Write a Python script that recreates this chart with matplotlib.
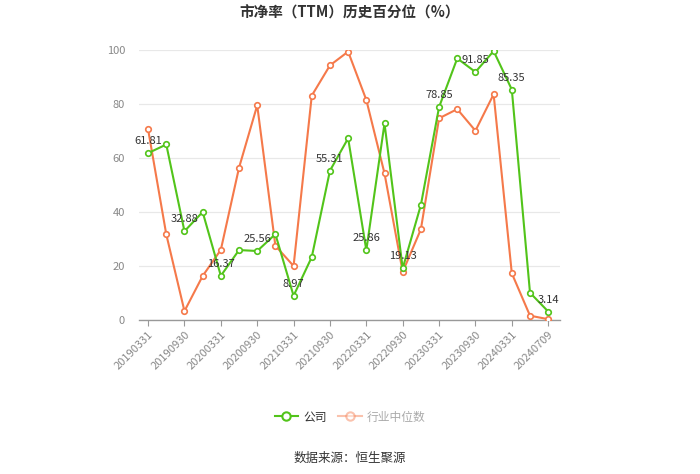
import matplotlib
matplotlib.use("Agg")
import matplotlib.pyplot as plt
from matplotlib.lines import Line2D

plt.rcParams['font.family'] = ['Noto Sans CJK SC', 'DejaVu Sans']

dates = ["20190331", "20190630", "20190930", "20191231",
         "20200331", "20200630", "20200930", "20201231",
         "20210331", "20210630", "20210930", "20211231",
         "20220331", "20220630", "20220930", "20221231",
         "20230331", "20230630", "20230930", "20231231",
         "20240331", "20240630", "20240709"]
company = [61.81, 65.0, 32.88, 40.0, 16.37, 25.9, 25.56, 31.8, 8.97, 23.3,
           55.31, 67.3, 25.86, 72.8, 19.13, 42.6, 78.85, 96.9, 91.85, 99.6,
           85.35, 10.1, 3.14]
industry = [70.6, 31.7, 3.3, 16.3, 26.0, 56.4, 79.5, 27.5, 20.0, 83.1,
            94.3, 99.4, 81.5, 54.3, 17.8, 33.6, 74.7, 78.1, 70.1, 83.6,
            17.3, 1.6, 0.3]
label_idx = [0, 2, 4, 6, 8, 10, 12, 14, 16, 18, 20, 22]
tick_idx = [0, 2, 4, 6, 8, 10, 12, 14, 16, 18, 20, 22]
yticks = [0, 20, 40, 60, 80, 100]

green = '#52c41a'
orange = '#f5794a'

fig = plt.figure(figsize=(7.0, 4.74), dpi=100)
ax = fig.add_axes([139/700, 1-320/474, (560-139)/700, 270/474])

x = list(range(len(dates)))
ax.plot(x, industry, color=orange, lw=1.5, marker='o', ms=4,
        mfc='white', mec=orange, mew=1.2, zorder=3)
ax.plot(x, company, color=green, lw=1.5, marker='o', ms=4,
        mfc='white', mec=green, mew=1.2, zorder=4)

for i in label_idx:
    ax.annotate(f"{company[i]:.2f}", (i, company[i]), xytext=(0, 5),
                textcoords='offset points', ha='center', va='bottom',
                fontsize=8, color='#333333', zorder=5)

ax.set_xlim(-0.5, 22.65)
ax.set_ylim(0, 100)
ax.set_yticks(yticks)
ax.set_yticklabels([str(v) for v in yticks])
ax.set_xticks(tick_idx)
ax.set_xticklabels([dates[i] for i in tick_idx], rotation=45, ha='right',
                   rotation_mode='anchor')
ax.tick_params(axis='y', length=0, labelsize=8, labelcolor='#888888', pad=10)
ax.tick_params(axis='x', length=4, color='#999999', labelsize=8,
               labelcolor='#888888', pad=3)
ax.grid(axis='y', color='#e8e8e8', lw=0.9)
ax.set_axisbelow(True)
for s in ['top', 'right', 'left']:
    ax.spines[s].set_visible(False)
ax.spines['bottom'].set_color('#999999')
ax.spines['bottom'].set_linewidth(1.0)
ax.spines['bottom'].set_zorder(2)

fig.text(0.5, 1-13/474, "市净率（TTM）历史百分位（%）", ha='center', va='center',
         fontsize=10.5, fontweight='bold', color='#333333')

handles = [Line2D([0], [0], color=green, lw=1.5, marker='o', ms=6,
                  mfc='white', mec=green, mew=1.5),
           Line2D([0], [0], color=orange, lw=1.5, marker='o', ms=6,
                  mfc='white', mec=orange, mew=1.5, alpha=0.45)]
leg = fig.legend(handles, ["公司", "行业中位数"], loc='center',
                 bbox_to_anchor=(0.5, 1-417/474), ncol=2, frameon=False,
                 fontsize=8.5, handlelength=2.0, columnspacing=1.0,
                 handletextpad=0.4)
leg.get_texts()[0].set_color('#333333')
leg.get_texts()[1].set_color('#aaaaaa')

fig.text(0.5, 1-458/474, "数据来源：恒生聚源", ha='center', va='center',
         fontsize=9, color='#333333')

fig.savefig("out.png", dpi=100)
